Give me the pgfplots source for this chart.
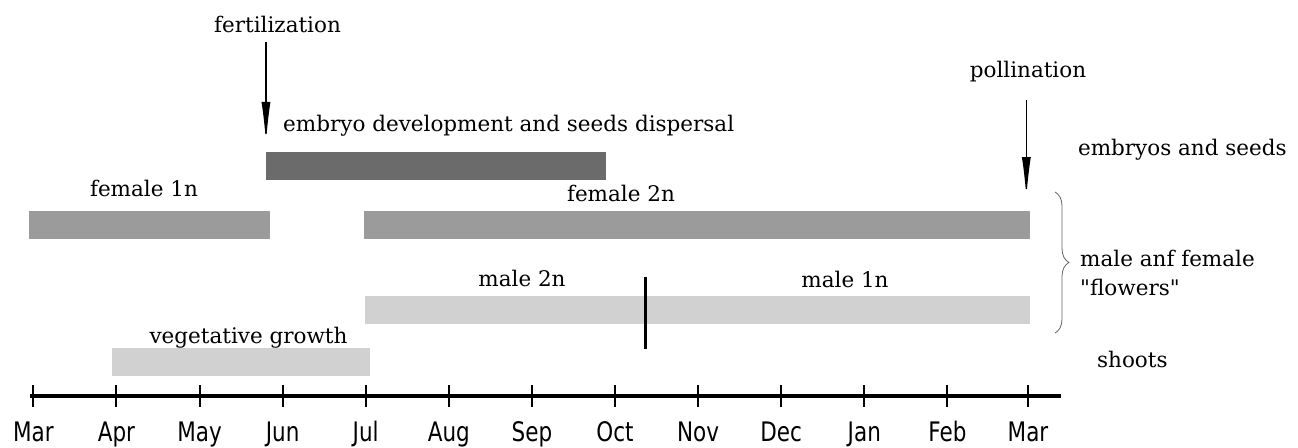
\documentclass[border=0pt]{standalone}
\usepackage{pgfplots}
\pgfplotsset{compat=1.18}
\usepackage{fontspec}
\setmainfont{DejaVu Serif}[Ligatures=TeXOff]
\newfontfamily\tickfont{DejaVu Sans}
\usepackage{graphicx}
\usetikzlibrary{arrows.meta,decorations.pathreplacing}
\definecolor{darkbar}{HTML}{6B6B6B}
\definecolor{midbar}{HTML}{9B9B9B}
\definecolor{lightbar}{HTML}{D1D1D1}
\newcommand{\lab}[1]{{\fontsize{21.5bp}{24bp}\selectfont #1}}
\newcommand{\ticklab}[1]{\scalebox{1}[1.25]{\tickfont\fontsize{21.5bp}{24bp}\selectfont #1}}
\begin{document}
\begin{tikzpicture}
\useasboundingbox (0,0) rectangle (1298bp,448bp);
\begin{axis}[scale only axis, width=1298bp, height=448bp,
  xmin=-0.4007, xmax=15.219, ymin=0, ymax=448, y dir=reverse,
  hide axis, clip=false, at={(0,0)}, anchor=south west]
% bars: (start month, end month) x (top px, bottom px)
\addplot[fill=darkbar, draw=none] coordinates {(2.80,152) (6.89,152) (6.89,180) (2.80,180)} --cycle;
\addplot[fill=midbar, draw=none] coordinates {(-0.05,211) (2.85,211) (2.85,239) (-0.05,239)} --cycle;
\addplot[fill=midbar, draw=none] coordinates {(3.98,211) (11.99,211) (11.99,239) (3.98,239)} --cycle;
\addplot[fill=lightbar, draw=none] coordinates {(3.99,296) (11.99,296) (11.99,324) (3.99,324)} --cycle;
\addplot[fill=lightbar, draw=none] coordinates {(0.947,348) (4.05,348) (4.05,376) (0.947,376)} --cycle;
% divider male 2n / male 1n
\addplot[black, line width=2.5bp] coordinates {(7.37,277) (7.37,349)};
% arrows
\addplot[black, line width=1.3bp, -{Latex[length=41bp,width=9bp]}] coordinates {(2.80,42) (2.80,143)};
\addplot[black, line width=1.3bp, -{Latex[length=41bp,width=9bp]}] coordinates {(11.95,100) (11.95,198)};
% brace
\draw[gray!80!black, line width=0.8bp, decorate, decoration={brace, amplitude=14bp}] (axis cs:12.295,192) -- (axis cs:12.295,333);
% labels
\node[anchor=base] at (axis cs:2.939,33) {\lab{fertilization}};
\node[anchor=base west, inner sep=0pt] at (axis cs:3.005,131.7) {\lab{embryo development and seeds dispersal}};
\node[anchor=base] at (axis cs:11.97,78) {\lab{pollination}};
\node[anchor=base west, inner sep=0pt] at (axis cs:12.57,155) {\lab{embryos and seeds}};
\node[anchor=base] at (axis cs:1.332,196.7) {\lab{female 1n}};
\node[anchor=base] at (axis cs:7.072,201.7) {\lab{female 2n}};
\node[anchor=base] at (axis cs:5.881,286.7) {\lab{male 2n}};
\node[anchor=base] at (axis cs:9.768,287) {\lab{male 1n}};
\node[anchor=base] at (axis cs:2.59,343) {\lab{vegetative growth}};
\node[anchor=base west, inner sep=0pt] at (axis cs:12.596,266.7) {\lab{male anf female}};
\node[anchor=base west, inner sep=0pt] at (axis cs:12.596,295) {\lab{"flowers"}};
\node[anchor=base west, inner sep=0pt] at (axis cs:12.80,367) {\lab{shoots}};
\end{axis}
\begin{axis}[scale only axis, width=1031.27bp, height=20bp,
  at={(29.98bp,52bp)}, anchor=south west,
  xmin=-0.04, xmax=12.37, ymin=0, ymax=1,
  axis x line*=bottom, axis y line=none,
  x axis line style={line width=4bp, -},
  xtick={0,1,2,3,4,5,6,7,8,9,10,11,11.97},
  xticklabels={\ticklab{Mar},\ticklab{Apr},\ticklab{May},\ticklab{Jun},\ticklab{Jul},\ticklab{Aug},\ticklab{Sep},\ticklab{Oct},\ticklab{Nov},\ticklab{Dec},\ticklab{Jan},\ticklab{Feb},\ticklab{Mar}},
  major tick length=21.6bp, tick align=center,
  major tick style={line width=2bp, black},
  xticklabel style={anchor=base, yshift=-35.1bp, inner sep=0pt}]
\addplot[draw=none] coordinates {(0,0) (1,1)};
\end{axis}
\end{tikzpicture}
\end{document}
